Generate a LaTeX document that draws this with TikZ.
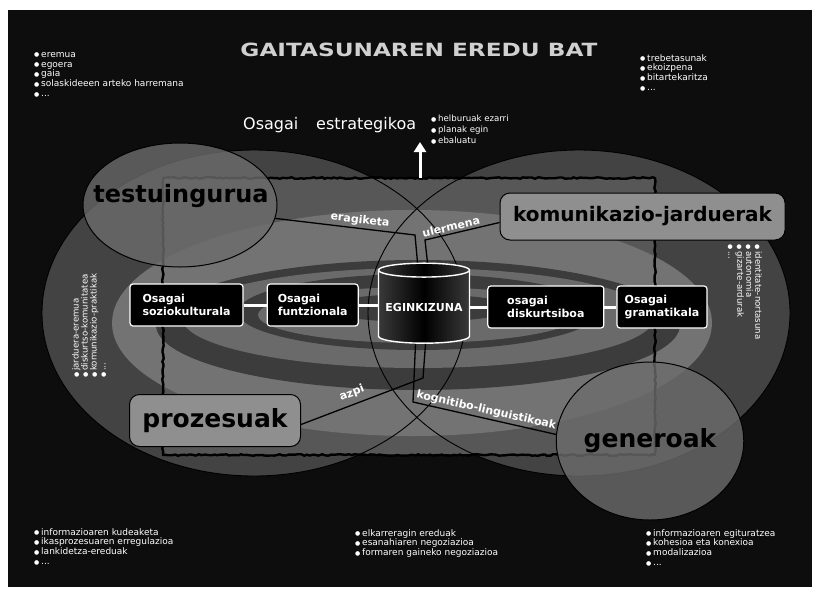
\documentclass[tikz,border=0pt]{standalone}
\usepackage{fontspec}
\setmainfont{DejaVu Sans}
\usepackage{graphicx}
\usetikzlibrary{positioning,shapes.geometric,arrows.meta,decorations.pathmorphing}

\definecolor{bgblack}{HTML}{0D0D0D}
\definecolor{lobegray}{HTML}{434343}
\definecolor{fieldgray}{HTML}{575757}
\definecolor{ringlight}{HTML}{737373}
\definecolor{ringdark}{HTML}{3C3C3C}
\definecolor{bubblegray}{HTML}{6C6C6C}
\definecolor{tabgray}{HTML}{8F8F8F}
\definecolor{titlegray}{HTML}{D0D0D0}

\newcommand{\itm}{{\fontsize{6}{6}\selectfont\raisebox{0.3pt}{●}}\kern1.8pt}

\begin{document}
\begin{tikzpicture}[x=1pt, y=-1pt,
  smalllist/.style={text=white, align=left, inner sep=0pt, anchor=north west,
    font=\fontsize{9}{9.8}\selectfont},
  part/.style={rectangle, rounded corners=3pt, draw=white, line width=1.2pt,
    fill=black, text=white, align=left, minimum height=42pt,
    font=\fontsize{11}{12.5}\selectfont\bfseries},
  bigtab/.style={rectangle, rounded corners=10pt, draw=black, line width=1pt,
    fill=tabgray, font=\fontsize{20}{24}\selectfont\bfseries},
  bubble/.style={ellipse, draw=black, line width=1pt, fill=bubblegray,
    fill opacity=0.8, text opacity=1, inner sep=0pt},
  link/.style={black, line width=1.3pt},
  linklbl/.style={text=white, sloped, above=1pt, inner sep=1pt,
    font=\fontsize{11}{12}\selectfont\bfseries},
  rough/.style={decorate, decoration={random steps, segment length=3pt, amplitude=0.8pt}},
  bond/.style={white, line width=3pt}
]
\useasboundingbox (0,0) rectangle (818,592);
\fill[white] (0,0) rectangle (818,592);
\fill[bgblack] (8,10) rectangle (812,587);

% two lobes and the field
\fill[lobegray] (254,313) ellipse [x radius=212, y radius=163];
\fill[lobegray] (579,313) ellipse [x radius=211, y radius=163];
\fill[fieldgray] (163,178) rectangle (655,455);

% rings round the task
\fill[ringlight] (412,323) ellipse [x radius=300, y radius=113];
\fill[ringdark] (418,325) ellipse [x radius=262, y radius=65];
\fill[ringlight!92!black] (418,318) ellipse [x radius=236, y radius=50];
\fill[ringdark] (418,312) ellipse [x radius=180, y radius=38];
\fill[ringlight!92!black] (418,315) ellipse [x radius=160, y radius=28];
\fill[ringdark] (418,308) ellipse [x radius=95, y radius=14];
\draw[line width=0.9pt] (254,313) ellipse [x radius=212, y radius=163];
\draw[line width=0.9pt] (579,313) ellipse [x radius=211, y radius=163];
\pgfmathsetseed{5}
\draw[rough, line width=2.4pt, line join=round] (163,178) rectangle (655,455);

% title and strategy
\node[text=titlegray, inner sep=0pt] (title) at (419,50)
  {\resizebox{357pt}{13.5pt}{\bfseries GAITASUNAREN EREDU BAT}};
\node[smalllist] (context) at (34,52)
  {\itm eremua\\\itm egoera\\\itm gaia\\\itm solaskideeen arteko harremana\\\itm ...};
\node[smalllist] (skills) at (640,54)
  {\itm trebetasunak\\\itm ekoizpena\\\itm bitartekaritza\\\itm ...};
\node[text=white, anchor=base west, inner sep=0pt, font=\fontsize{16}{18}\selectfont]
  (strat) at (243,129) {Osagai\hspace{0.8em} estrategikoa};
\node[smalllist, font=\fontsize{8.6}{11}\selectfont] (aims) at (431,115)
  {\itm helburuak ezarri\\\itm planak egin\\\itm ebaluatu};
\coordinate (arrowfoot) at (420,178);
\coordinate (arrowtip) at (420,142);
\draw[white, line width=3pt, -{Triangle[width=12pt,length=10pt]}] (arrowfoot) -- (arrowtip);

% components row
\node[part, minimum width=113pt] (soc) at (186.5,305) {Osagai\\soziokulturala};
\node[part, minimum width=91pt, right=23pt of soc] (fun) {Osagai\\funtzionala};
\node[cylinder, shape border rotate=90, aspect=0.18, draw=white, line width=1.4pt,
  minimum width=91pt, minimum height=80pt, inner sep=0pt, yshift=-2pt,
  left color=gray!45!black, right color=gray!45!black, middle color=black,
  text=white, font=\fontsize{11}{12}\selectfont\bfseries, right=19pt of fun] (eg) {EGINKIZUNA};
\node[part, minimum width=116pt, right=17pt of eg] (dis) {osagai\\diskurtsiboa};
\node[part, minimum width=90pt, right=12pt of dis] (gram) {Osagai\\gramatikala};
\draw[bond] (soc) -- (fun);
\draw[bond] (fun) -- (fun -| eg.west);
\draw[bond] (dis -| eg.east) -- (dis);
\draw[bond] (dis) -- (gram);

% dimensions
\node[bubble, minimum width=194pt, minimum height=124pt] (tes) at (180,205) {};
\node[font=\fontsize{24}{28}\selectfont\bfseries, inner sep=0pt] (tes-txt) at (181,196) {testuingurua};
\node[bubble, minimum width=156pt, minimum height=158pt,
  font=\fontsize{25}{28}\selectfont\bfseries] (gen) at (650,441) {generoak};
\node[bigtab, minimum width=285pt, minimum height=47pt] (com) at (642.5,216.5) {komunikazio-jarduerak};
\node[bigtab, minimum width=171pt, minimum height=52pt,
  font=\fontsize{25}{28}\selectfont\bfseries] (pro) at (215,420.5) {prozesuak};

% links to the task
\draw[link] (tes.-8) -- node[linklbl, pos=0.6] {eragiketa} (415,235) -- ([xshift=-6.5pt]eg.north);
\draw[link] ([yshift=-6pt]com.west) -- node[linklbl, pos=0.63] {ulermena} (425,240) -- ([xshift=3.5pt]eg.north);
\draw[link] ([xshift=1.5pt]eg.south) -- (423,378) -- node[linklbl, pos=0.55, above=4pt] {azpi} ([yshift=-4pt]pro.east);
\draw[link] ([xshift=-8.5pt]eg.south) -- (413,402) -- node[linklbl, pos=0.5] {kognitibo-linguistikoak} (gen.176);

% side and bottom lists
\node[smalllist, rotate=90, font=\fontsize{8.6}{9}\selectfont] (practice) at (72,378)
  {\itm jarduera-eremua\\\itm diskurtso-komunitatea\\\itm komunikazio-praktikak\\\itm ...};
\node[smalllist, rotate=-90, font=\fontsize{8.6}{9}\selectfont] (identity) at (762,244)
  {\itm identitate-nortasuna\\\itm autonomia\\\itm gizarte-ardurak\\\itm ...};
\node[smalllist] (inform) at (34,528)
  {\itm informazioaren kudeaketa\\\itm ikasprozesuaren erregulazioa\\\itm lankidetza-ereduak\\\itm ...};
\node[smalllist] (negot) at (355,529)
  {\itm elkarreragin ereduak\\\itm esanahiaren negoziazioa\\\itm formaren gaineko negoziazioa};
\node[smalllist] (struct) at (646,529)
  {\itm informazioaren egituratzea\\\itm kohesioa eta konexioa\\\itm modalizazioa\\\itm ...};
\end{tikzpicture}
\end{document}
